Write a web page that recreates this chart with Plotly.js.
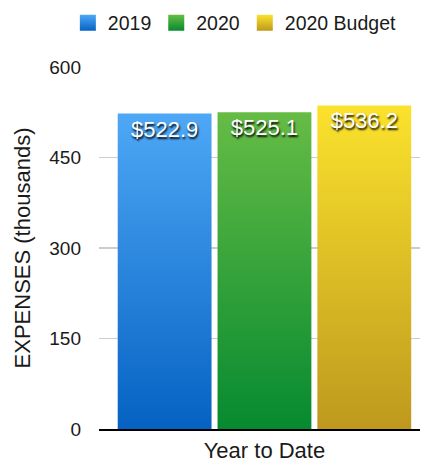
<!DOCTYPE html>
<html>
<head>
<meta charset="utf-8">
<script src="https://cdn.plot.ly/plotly-3.0.1.min.js"></script>
<style>
html,body{margin:0;padding:0;background:#fff;}
#chart{width:422px;height:461px;}
</style>
</head>
<body>
<div id="chart"></div>
<script>
const categories = ["Year to Date"];
const seriesNames = ["2019", "2020", "2020 Budget"];
const values2019 = [522.9];
const values2020 = [525.1];
const valuesBudget = [536.2];
const yTicks = [0, 150, 300, 450, 600];

const seriesValues = [values2019, values2020, valuesBudget];
const midColors = ["#2a84de", "#36a23c", "#ddbe26"];
const gradStops = [
  ["#4ea8f6", "#0562c2"],
  ["#66bc45", "#068a30"],
  ["#fbe22c", "#be991e"]
];
const FONT = "Liberation Sans, Arial, Helvetica, sans-serif";

const traces = seriesNames.map((name, i) => ({
  type: "bar",
  name: name,
  x: categories,
  y: seriesValues[i],
  text: seriesValues[i].map(v => "$" + v.toFixed(1)),
  textposition: "inside",
  insidetextanchor: "end",
  textangle: 0,
  textfont: {family: FONT, size: 22, color: "#ffffff", shadow: "1px 2px 2px rgba(0,0,0,0.95)"},
  marker: {color: midColors[i], line: {width: 0}},
  hoverinfo: "none"
}));

const layout = {
  width: 422,
  height: 461,
  margin: {l: 99, r: 2, t: 67, b: 32},
  paper_bgcolor: "#ffffff",
  plot_bgcolor: "#ffffff",
  font: {family: FONT, size: 19, color: "#1a1a1a"},
  barmode: "group",
  bargap: 0.095,
  bargroupgap: 0.06,
  showlegend: true,
  legend: {
    orientation: "h",
    xref: "paper", yref: "paper",
    x: -0.097, xanchor: "left",
    y: 1.175, yanchor: "top",
    font: {family: FONT, size: 19.5, color: "#1a1a1a"},
    itemclick: false, itemdoubleclick: false,
    traceorder: "normal"
  },
  xaxis: {
    type: "category",
    range: [-0.5, 0.47],
    showgrid: false,
    showline: true,
    linecolor: "#000000",
    linewidth: 1.5,
    ticks: "",
    tickfont: {family: FONT, size: 22, color: "#1a1a1a"},
    ticklabelstandoff: 1,
    fixedrange: true
  },
  yaxis: {
    range: [0, 600],
    tickvals: yTicks,
    ticktext: yTicks.map(String),
    showgrid: true,
    gridcolor: "#cccccc",
    gridwidth: 1.5,
    zeroline: false,
    showline: false,
    ticks: "",
    ticklabelstandoff: 17,
    tickfont: {family: FONT, size: 19, color: "#1a1a1a"},
    title: {text: "EXPENSES (thousands)", font: {family: FONT, size: 22, color: "#1a1a1a"}, standoff: 12},
    fixedrange: true
  }
};

Plotly.newPlot("chart", traces, layout, {displayModeBar: false, staticPlot: true}).then(gd => {
  const svg = gd.querySelector("svg.main-svg");
  const ns = "http://www.w3.org/2000/svg";
  let defs = svg.querySelector("defs");
  if (!defs) { defs = document.createElementNS(ns, "defs"); svg.insertBefore(defs, svg.firstChild); }
  gradStops.forEach((st, i) => {
    const g = document.createElementNS(ns, "linearGradient");
    g.setAttribute("id", "bargrad" + i);
    g.setAttribute("x1", "0"); g.setAttribute("y1", "0");
    g.setAttribute("x2", "0"); g.setAttribute("y2", "1");
    [[0, st[0]], [1, st[1]]].forEach(([o, c]) => {
      const s = document.createElementNS(ns, "stop");
      s.setAttribute("offset", o);
      s.setAttribute("stop-color", c);
      g.appendChild(s);
    });
    defs.appendChild(g);
  });
  gd.querySelectorAll(".barlayer .trace").forEach((tr, i) => {
    tr.querySelectorAll(".point path").forEach(p => { p.style.fill = "url(#bargrad" + i + ")"; });
  });
  gd.querySelectorAll(".legend .traces").forEach((tr, i) => {
    tr.querySelectorAll(".legendpoints path").forEach(p => {
      p.style.fill = "url(#bargrad" + i + ")";
      p.setAttribute("d", "M8,8H-8V-8H8Z");
    });
  });
});
</script>
</body>
</html>
